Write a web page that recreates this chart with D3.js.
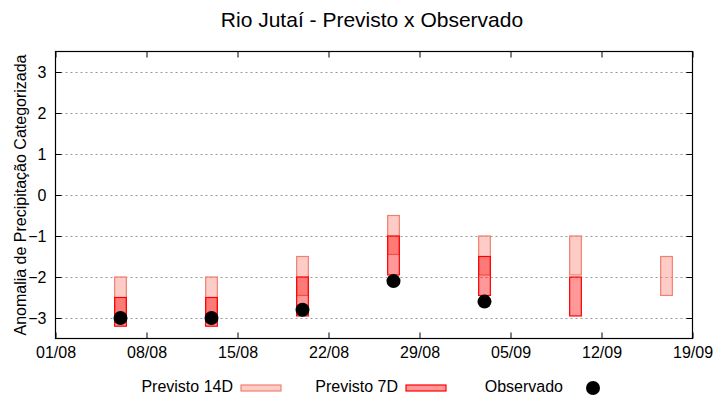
<!DOCTYPE html>
<html>
<head>
<meta charset="utf-8">
<script src="https://cdn.jsdelivr.net/npm/d3@7"></script>
<style>
  body { margin: 0; background: #fff; }
  svg { font-family: "Liberation Sans", Arial, sans-serif; }
</style>
</head>
<body>
<svg width="720" height="400"></svg>
<script>
// data
const dates = ["2023-08-06", "2023-08-13", "2023-08-20", "2023-08-27", "2023-09-03", "2023-09-10", "2023-09-17"];
const prev14Top = [-2, -2, -1.5, -0.5, -1, -1, -1.5];
const prev14Bot = [-2.95, -2.95, -2.45, -1.45, -1.95, -1.95, -2.45];
const prev7Top = [-2.5, -2.5, -2, -1, -1.5, -2, null];
const prev7Bot = [-3.2, -3.2, -2.95, -1.95, -2.45, -2.95, null];
const observado = [-3, -3, -2.8, -2.1, -2.6, null, null];
const xTicks = ["2023-08-01", "2023-08-08", "2023-08-15", "2023-08-22", "2023-08-29", "2023-09-05", "2023-09-12", "2023-09-19"];
const yTicks = [-3, -2, -1, 0, 1, 2, 3];
const legendLabels = ["Previsto 14D", "Previsto 7D", "Observado"];

const parse = d3.utcParse("%Y-%m-%d");
const DAY = 864e5;

const mLeft = 55.5, mRight = 692.5, mTop = 51.5, mBottom = 338.5;

const x = d3.scaleUtc()
  .domain([parse(xTicks[0]), parse(xTicks[xTicks.length - 1])])
  .range([mLeft, mRight]);
const y = d3.scaleLinear().domain([-3.5, 3.5]).range([mBottom, mTop]);

const svg = d3.select("svg");

// title
svg.append("text")
  .attr("x", 372)
  .attr("y", 27)
  .attr("text-anchor", "middle")
  .attr("font-size", 21)
  .text("Rio Jutaí - Previsto x Observado");

// horizontal grid
svg.append("g")
  .selectAll("line")
  .data(yTicks)
  .enter()
  .append("line")
  .attr("x1", mLeft)
  .attr("x2", mRight)
  .attr("y1", (d) => Math.round(y(d)) + 0.5)
  .attr("y2", (d) => Math.round(y(d)) + 0.5)
  .attr("stroke", "#999")
  .attr("stroke-dasharray", "2,3");

// bars
const rows = dates.map((d, i) => ({
  date: parse(d),
  t14: prev14Top[i], b14: prev14Bot[i],
  t7: prev7Top[i], b7: prev7Bot[i],
  obs: observado[i],
}));
const halfW = 0.45 * DAY;

function bars(topKey, botKey, fill, stroke) {
  svg.append("g")
    .selectAll("rect")
    .data(rows.filter((r) => r[topKey] != null))
    .enter()
    .append("rect")
    .attr("x", (r) => x(new Date(+r.date - halfW)))
    .attr("width", (r) => x(new Date(+r.date + halfW)) - x(new Date(+r.date - halfW)))
    .attr("y", (r) => y(r[topKey]))
    .attr("height", (r) => y(r[botKey]) - y(r[topKey]))
    .attr("fill", fill)
    .attr("fill-opacity", 0.4)
    .attr("stroke", stroke)
    .attr("stroke-width", 1.2);
}
bars("t14", "b14", "#fa8072", "#f08070");
bars("t7", "b7", "#ff0000", "#ff0000");

// observed
svg.append("g")
  .selectAll("circle")
  .data(rows.filter((r) => r.obs != null))
  .enter()
  .append("circle")
  .attr("cx", (r) => x(r.date))
  .attr("cy", (r) => y(r.obs))
  .attr("r", 7)
  .attr("fill", "#000");

// axes (ticks point inward, mirrored on top/right)
const xt = xTicks.map(parse);
const fmt = d3.utcFormat("%d/%m");

svg.append("g")
  .attr("transform", `translate(0,${mBottom})`)
  .call(d3.axisBottom(x).tickValues(xt).tickFormat(fmt).tickSizeInner(-6).tickSizeOuter(0).tickPadding(8));
svg.append("g")
  .attr("transform", `translate(0,${mTop})`)
  .call(d3.axisTop(x).tickValues(xt).tickFormat("").tickSizeInner(-6).tickSizeOuter(0));
svg.append("g")
  .attr("transform", `translate(${mLeft},0)`)
  .call(d3.axisLeft(y).tickValues(yTicks).tickFormat(d3.format("d")).tickSizeInner(-6).tickSizeOuter(0).tickPadding(9));
svg.append("g")
  .attr("transform", `translate(${mRight},0)`)
  .call(d3.axisRight(y).tickValues(yTicks).tickFormat("").tickSizeInner(-6).tickSizeOuter(0));

svg.selectAll(".tick text")
  .attr("font-size", 16)
  .attr("font-family", "Liberation Sans, Arial, sans-serif")
  .attr("fill", "#000");
svg.selectAll(".domain").remove();
svg.selectAll(".tick line").attr("stroke", "#000");

// frame
svg.append("rect")
  .attr("x", mLeft)
  .attr("y", mTop)
  .attr("width", mRight - mLeft)
  .attr("height", mBottom - mTop)
  .attr("fill", "none")
  .attr("stroke", "#000")
  .attr("stroke-width", 1.2);

// y label
svg.append("text")
  .attr("transform", `translate(26,${(mTop + mBottom) / 2}) rotate(-90)`)
  .attr("text-anchor", "middle")
  .attr("font-size", 16)
  .text("Anomalia de Precipitação Categorizada");

// legend
const legend = svg.append("g")
  .selectAll("g")
  .data(legendLabels)
  .enter()
  .append("g")
  .attr("transform", (d, i) => `translate(${233 + i * 165},0)`);
legend.append("text")
  .attr("x", 0)
  .attr("y", 392)
  .attr("text-anchor", "end")
  .attr("font-size", 16)
  .text((d) => d);
legend.filter((d, i) => i < 2)
  .append("rect")
  .attr("x", 8)
  .attr("y", 385)
  .attr("width", 40)
  .attr("height", 6)
  .attr("fill", (d, i) => (i === 0 ? "#fa8072" : "#ff0000"))
  .attr("fill-opacity", 0.4)
  .attr("stroke", (d, i) => (i === 0 ? "#f08070" : "#ff0000"))
  .attr("stroke-width", 1.2);
legend.filter((d, i) => i === 2)
  .append("circle")
  .attr("cx", 30)
  .attr("cy", 388)
  .attr("r", 7)
  .attr("fill", "#000");
</script>
</body>
</html>
